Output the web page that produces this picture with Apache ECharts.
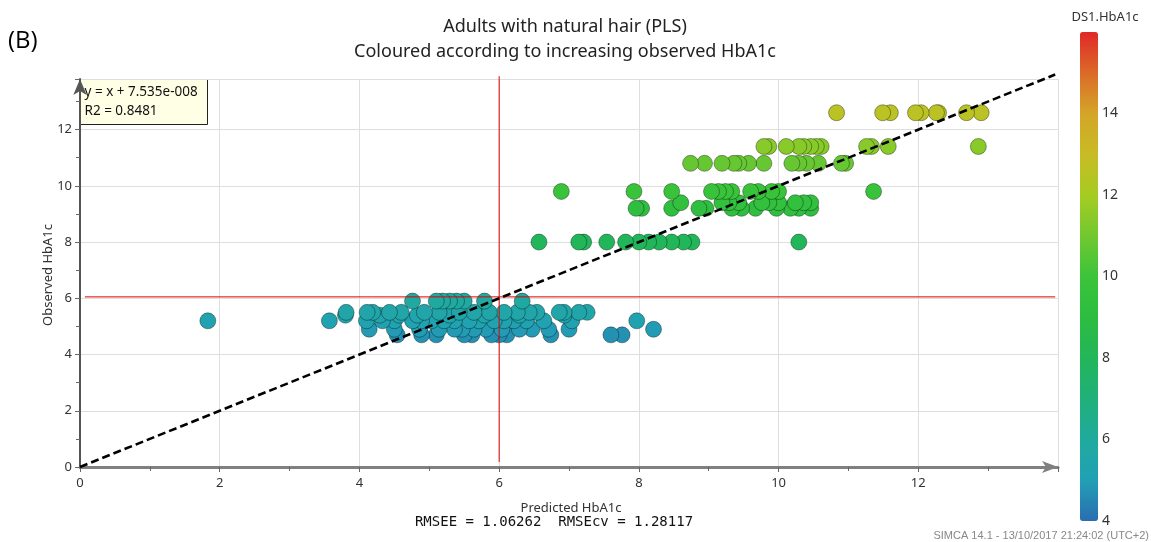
<!DOCTYPE html>
<html>
<head>
<meta charset="utf-8">
<script src="https://cdn.jsdelivr.net/npm/echarts@6/dist/echarts.min.js"></script>
<style>
html,body{margin:0;padding:0;background:#fff;}
#chart{width:1151px;height:542px;}
</style>
</head>
<body>
<div id="chart"></div>
<script>
// Observed HbA1c levels and the predicted values read for each level
const obsLevels = [12.6, 11.4, 10.8, 9.8, 9.4, 9.2, 8.0, 5.9, 5.5, 5.4, 5.2, 4.9, 4.7];
const pred_12_6 = [10.83, 11.49, 11.6, 11.96, 12.04, 12.26, 12.29, 12.69, 12.9];
const pred_11_4 = [9.79, 9.86, 10.11, 10.29, 10.36, 10.46, 10.54, 10.61, 11.26, 11.33, 11.57, 12.86];
const pred_10_8 = [8.74, 8.94, 9.19, 9.36, 9.43, 9.57, 9.79, 10.19, 10.29, 10.4, 10.57, 10.9, 10.96];
const pred_9_8 = [6.89, 7.93, 8.47, 9.04, 9.14, 9.24, 9.33, 9.6, 9.71, 9.9, 10.0, 11.36];
const pred_9_4 = [8.6, 9.19, 9.29, 9.43, 9.76, 9.86, 10.0, 10.24, 10.36, 10.46];
const pred_9_2 = [7.96, 8.04, 8.47, 8.86, 8.96, 9.33, 9.47, 9.67, 9.97, 10.17, 10.29, 10.46];
const pred_8_0 = [6.57, 7.14, 7.21, 7.54, 7.81, 8.0, 8.14, 8.29, 8.47, 8.64, 8.76, 10.29];
const pred_5_9 = [4.76, 5.1, 5.19, 5.29, 5.39, 5.5, 5.79, 6.33];
const pred_5_5 = [3.81, 4.11, 4.19, 4.43, 4.6, 4.93, 5.14, 5.43, 5.64, 5.86, 6.07, 6.26, 6.43, 6.54, 6.86, 6.93, 7.14, 7.26];
const pred_5_4 = [3.8, 4.29, 4.57, 4.83, 5.29, 5.79, 6.29, 6.93];
const pred_5_2 = [1.83, 3.57, 4.1, 4.33, 4.5, 4.76, 4.89, 5.03, 5.21, 5.36, 5.57, 5.71, 5.93, 6.07, 6.21, 6.39, 6.64, 7.04, 7.97];
const pred_4_9 = [4.14, 4.5, 4.86, 5.14, 5.36, 5.47, 5.64, 5.81, 6.04, 6.29, 6.47, 6.71, 7.0, 8.21];
const pred_4_7 = [4.54, 4.89, 5.1, 5.5, 5.61, 5.89, 6.0, 6.11, 6.74, 7.6, 7.76];
const predByLevel = [pred_12_6, pred_11_4, pred_10_8, pred_9_8, pred_9_4, pred_9_2, pred_8_0,
                     pred_5_9, pred_5_5, pred_5_4, pred_5_2, pred_4_9, pred_4_7];

// Fit line y = x + 7.535e-008 and reference lines
const fitSlope = 1;
const fitIntercept = 7.535e-8;
const fitXRange = [0, 13.96];
const refPredX = 6;          // vertical red line
const refObsY = 6.05;        // horizontal red line
const refVertY = [0.18, 13.9];
const refHorzX = [0.07, 13.96];

const xTicks = [0, 2, 4, 6, 8, 10, 12];
const yTicks = [0, 2, 4, 6, 8, 10, 12];
const colorTicks = [4, 6, 8, 10, 12, 14];
// colour scale stops for 4,5,...,16
const colorStops = ['#2a6db0', '#22a0b4', '#1faa9e', '#20b07a', '#22b65a', '#2cbd40', '#3cc43a',
                    '#72c830', '#a6cc22', '#c8bb25', '#d4a528', '#db6a28', '#e02828'];

const points = [];
predByLevel.forEach((arr, i) => arr.forEach(x => points.push([x, obsLevels[i]])));
points.reverse();

const chart = echarts.init(document.getElementById('chart'), null, {renderer: 'canvas'});
const font = 'Noto Sans, Open Sans, sans-serif';

const option = {
  backgroundColor: '#fff',
  animation: false,
  title: {
    text: 'Adults with natural hair (PLS)\nColoured according to increasing observed HbA1c',
    left: 560, top: 9, textAlign: 'center',
    textStyle: {fontFamily: font, fontSize: 18, fontWeight: 'normal', color: '#222', lineHeight: 25}
  },
  grid: [
    {left: 80, right: 93, top: 79, bottom: 75, containLabel: false},
    {left: 1098, top: 32, width: 1, height: 489}
  ],
  xAxis: [
    {
      type: 'value', min: 0, max: 14, interval: 2, gridIndex: 0,
      axisLine: {show: true, lineStyle: {color: '#808080', width: 3}, symbol: ['none', 'arrow'], symbolSize: [9, 16]},
      axisTick: {show: true, length: 5, lineStyle: {color: '#666'}},
      minorTick: {show: true, splitNumber: 2, length: 4, lineStyle: {color: '#666'}},
      axisLabel: {fontFamily: font, fontSize: 13, color: '#333', margin: 10, showMaxLabel: false,
        formatter: v => xTicks.includes(v) ? String(v) : ''},
      splitLine: {show: true, lineStyle: {color: '#dedede', width: 1}}
    },
    {gridIndex: 1, type: 'value', show: false}
  ],
  yAxis: [
    {
      type: 'value', min: 0, max: 13.8, interval: 2, gridIndex: 0,
      axisLine: {show: true, lineStyle: {color: '#555', width: 2}, symbol: ['none', 'arrow'], symbolSize: [10, 16]},
      axisTick: {show: true, length: 5, lineStyle: {color: '#666'}},
      minorTick: {show: true, splitNumber: 2, length: 4, lineStyle: {color: '#666'}},
      axisLabel: {fontFamily: font, fontSize: 13, color: '#333', margin: 8, showMaxLabel: false,
        formatter: v => yTicks.includes(v) ? String(v) : ''},
      splitLine: {show: true, lineStyle: {color: '#dedede', width: 1}}
    },
    {
      type: 'value', gridIndex: 1, min: 4, max: 16, interval: 2, position: 'right',
      axisLine: {show: false}, axisTick: {show: false}, splitLine: {show: false},
      axisLabel: {fontFamily: font, fontSize: 14, color: '#333', margin: 3, showMaxLabel: false,
        formatter: v => colorTicks.includes(v) ? String(v) : ''}
    }
  ],
  visualMap: {
    type: 'continuous', min: 4, max: 16, dimension: 1, seriesIndex: 0,
    left: 1080, top: 32, itemWidth: 18, itemHeight: 489, padding: 0,
    calculable: false, hoverLink: false, text: null,
    inRange: {color: colorStops}
  },
  series: [
    {
      type: 'scatter', data: points, symbolSize: 16, xAxisIndex: 0, yAxisIndex: 0, z: 2,
      itemStyle: {borderColor: 'rgba(0,0,0,0.35)', borderWidth: 1, opacity: 1}
    },
    {
      type: 'line', data: [[refPredX, refVertY[0]], [refPredX, refVertY[1]]], symbol: 'none', z: 4, clip: false,
      lineStyle: {color: '#dd0000', width: 1}, silent: true
    },
    {
      type: 'line', data: [[refHorzX[0], refObsY], [refHorzX[1], refObsY]], symbol: 'none', z: 4, clip: false,
      lineStyle: {color: '#dd0000', width: 1}, silent: true
    },
    {
      type: 'line', data: fitXRange.map(x => [x, fitSlope * x + fitIntercept]), symbol: 'none', z: 5, clip: false,
      lineStyle: {color: '#000', width: 2.6, type: [8, 4]}, silent: true
    }
  ],
  graphic: [
    {type: 'text', left: 8, top: 29, style: {text: '(B)', font: '24px "Open Sans", sans-serif', fill: '#000'}},
    {type: 'group', left: 80, top: 79, children: [
      {type: 'rect', shape: {x: 0, y: 0, width: 127, height: 45}, style: {fill: '#ffffe6', stroke: '#222', lineWidth: 1}},
      {type: 'text', x: 4, y: 3, style: {text: 'y = x + 7.535e-008\nR2 = 0.8481', font: '13.5px "Noto Sans", sans-serif', fill: '#111', lineHeight: 19}}
    ]},
    {type: 'text', x: 571, y: 508, style: {text: 'Predicted HbA1c', font: '13px "Noto Sans", sans-serif', fill: '#333', textAlign: 'center', textVerticalAlign: 'middle'}},
    {type: 'text', x: 554, y: 522, style: {text: 'RMSEE = 1.06262  RMSEcv = 1.28117', font: '14px "DejaVu Sans Mono", monospace', fill: '#111', textAlign: 'center', textVerticalAlign: 'middle'}},
    {type: 'text', x: 48, y: 275, rotation: Math.PI / 2,
      style: {text: 'Observed HbA1c', font: '13px "Noto Sans", sans-serif', fill: '#333', textAlign: 'center', textVerticalAlign: 'middle'}},
    {type: 'text', x: 1105, y: 17, style: {text: 'DS1.HbA1c', font: '13px "Noto Sans", sans-serif', fill: '#333', textAlign: 'center', textVerticalAlign: 'middle'}},
    {type: 'text', x: 1149, y: 536, style: {text: 'SIMCA 14.1 - 13/10/2017 21:24:02 (UTC+2)', font: '11px "Liberation Sans Narrow", "Liberation Sans", sans-serif', fill: '#888', textAlign: 'right', textVerticalAlign: 'middle'}}
  ]
};
chart.setOption(option);
</script>
</body>
</html>
